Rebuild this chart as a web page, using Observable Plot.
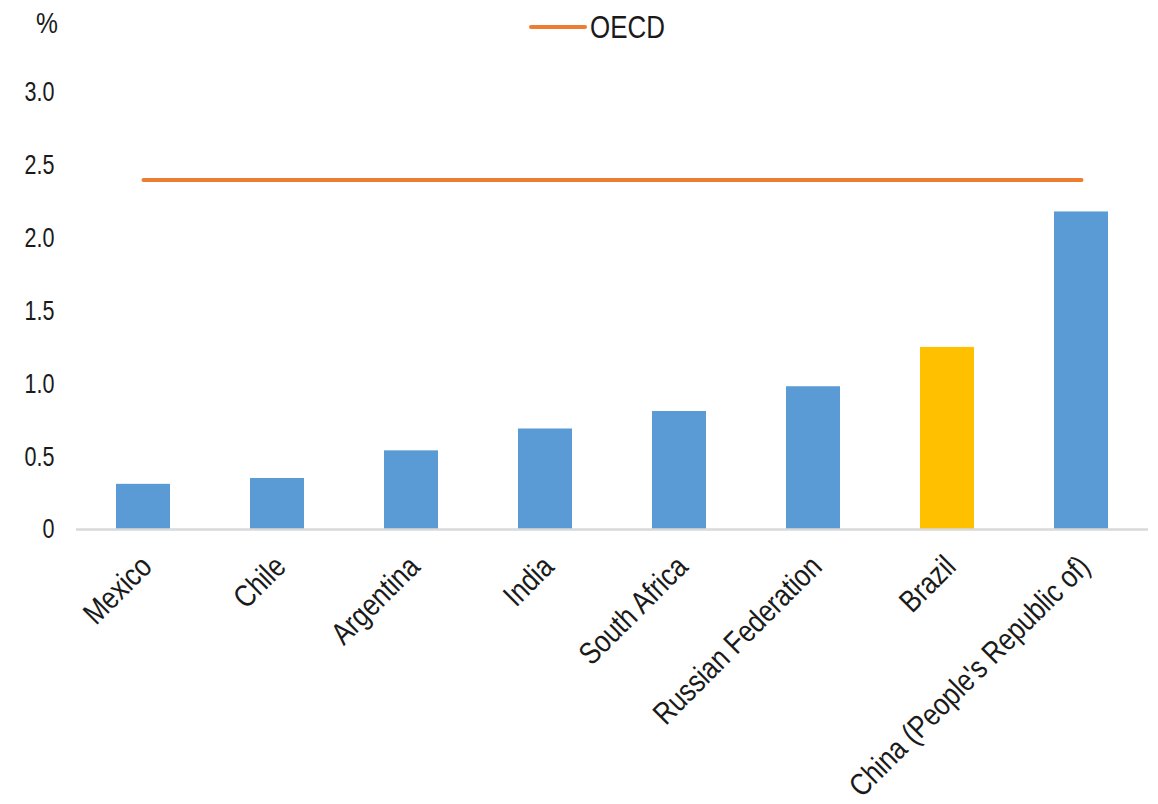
<!DOCTYPE html>
<html>
<head>
<meta charset="utf-8">
<script src="https://cdn.jsdelivr.net/npm/d3@7"></script>
<script src="https://cdn.jsdelivr.net/npm/@observablehq/plot@0.6"></script>
<style>
  html, body { margin: 0; padding: 0; background: #fff; }
  #wrap { position: relative; width: 1158px; height: 804px; font-family: "Liberation Sans", Arial, sans-serif; color: #1a1a1a; }
  #unit { position: absolute; left: 36px; top: 9px; font-size: 29px; line-height: 29px; transform: scaleX(0.85); transform-origin: left center; }
  #legend { position: absolute; left: 529px; top: 11px; height: 32px; display: flex; align-items: center; font-size: 32px; line-height: 32px; }
  #legend .swatch { width: 58px; height: 4px; background: #ED7D31; border-radius: 2px; margin-right: 3px; }
  #legend .lab { display: inline-block; transform: scaleX(0.81); transform-origin: left center; }
  #chart { position: absolute; left: 0; top: 0; }
</style>
</head>
<body>
<div id="wrap">
  <div id="chart"></div>
  <div id="unit">%</div>
  <div id="legend"><span class="swatch"></span><span class="lab">OECD</span></div>
</div>
<script>
const categories = ["Mexico", "Chile", "Argentina", "India", "South Africa", "Russian Federation", "Brazil", "China (People's Republic of)"];
const values = [0.31, 0.35, 0.54, 0.69, 0.81, 0.98, 1.25, 2.18];
const highlighted = ["Brazil"];
const oecdAverage = 2.4;
const yTicks = [0, 0.5, 1.0, 1.5, 2.0, 2.5, 3.0];

const data = categories.map((c, i) => ({country: c, value: values[i], hl: highlighted.includes(c)}));
const oecdLine = categories.map(c => ({country: c, value: oecdAverage}));

const plot = Plot.plot({
  width: 1158,
  height: 804,
  marginTop: 92,
  marginBottom: 275,
  marginLeft: 76,
  marginRight: 10,
  style: {fontFamily: '"Liberation Sans", Arial, sans-serif', fontSize: "28px", color: "#1a1a1a", background: "transparent"},
  x: {domain: categories, paddingInner: 0.6, paddingOuter: 0.3, label: null},
  y: {domain: [0, 3], label: null},
  color: {domain: [false, true], range: ["#5B9BD5", "#FFC000"]},
  marks: [
    Plot.barY(data, {x: "country", y: "value", fill: "hl"}),
    Plot.ruleY([0], {stroke: "#D9D9D9", strokeWidth: 2.5}),
    Plot.lineY(oecdLine, {x: "country", y: "value", stroke: "#ED7D31", strokeWidth: 4, strokeLinecap: "round"}),
    Plot.axisY({ticks: yTicks, tickSize: 0, tickPadding: 22, fontSize: 28, tickFormat: d => d === 0 ? "0" : d.toFixed(1), label: null}),
    Plot.axisX({tickSize: 0, tickRotate: -45, tickPadding: 32, fontSize: 31, dx: 3, label: null})
  ]
});

function squeeze(selector, sx, sy) {
  plot.querySelectorAll(selector).forEach(t => {
    let tr = t.getAttribute("transform");
    if (!tr) {
      const x = +(t.getAttribute("x") || 0), y = +(t.getAttribute("y") || 0);
      t.removeAttribute("x"); t.removeAttribute("y");
      tr = `translate(${x},${y})`;
    }
    t.setAttribute("transform", `${tr} scale(${sx},${sy})`);
  });
}
squeeze('g[aria-label="y-axis tick label"] text', 0.77, 1);
squeeze('g[aria-label="x-axis tick label"] text', 0.83, 1);

document.getElementById("chart").appendChild(plot);
</script>
</body>
</html>
